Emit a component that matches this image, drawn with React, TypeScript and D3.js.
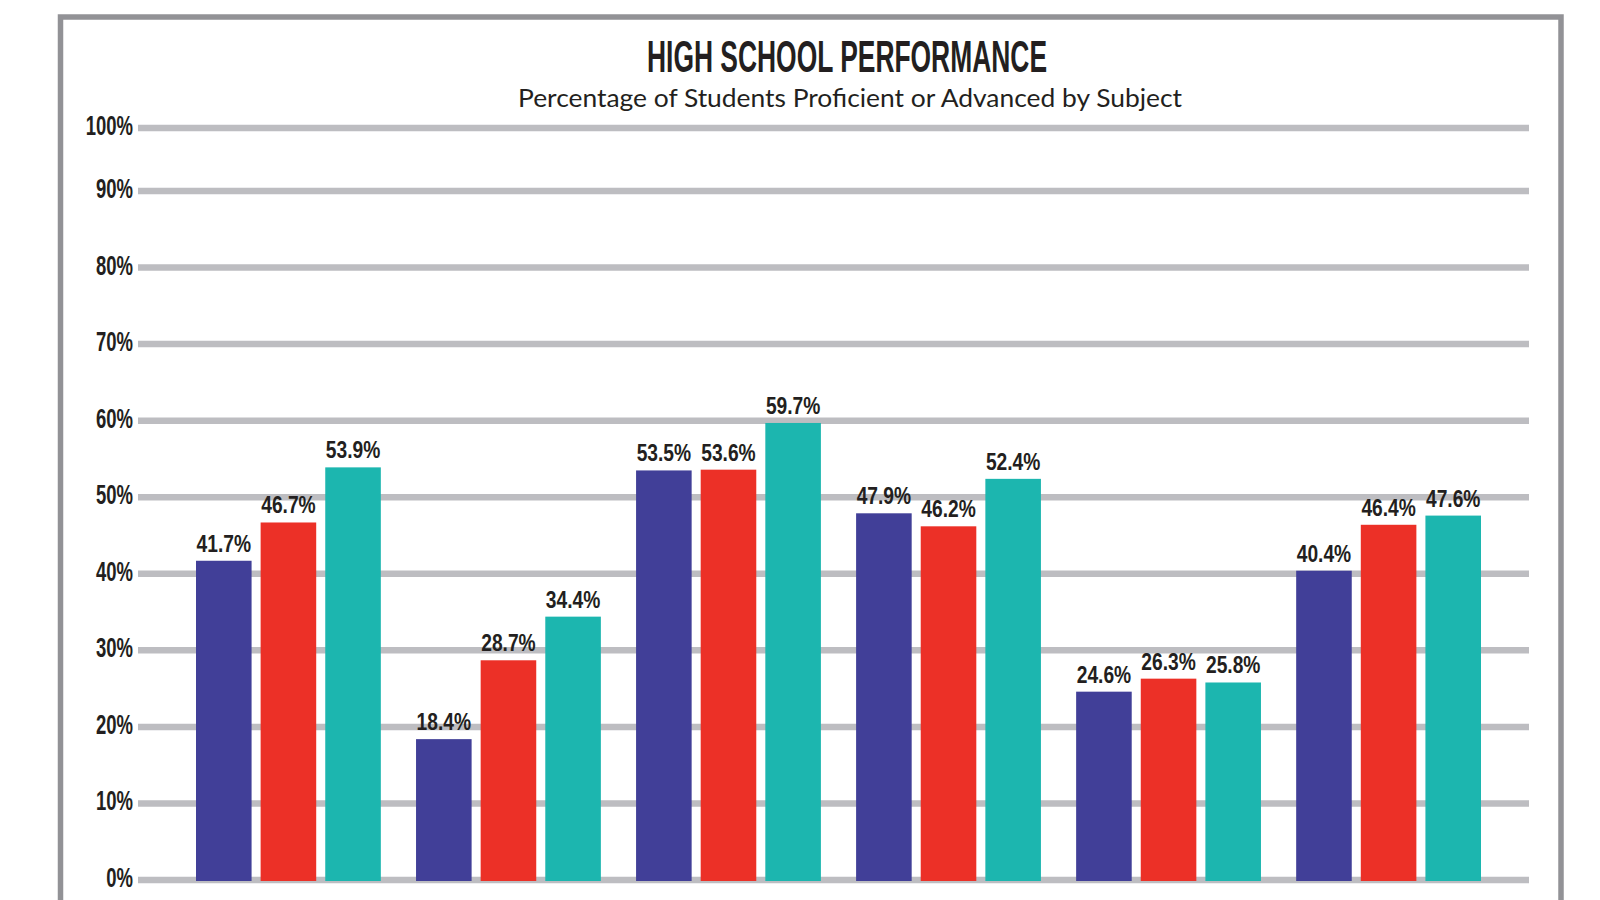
import React from "react";
import * as d3 from "d3";

const subjects = ["Subject 1", "Subject 2", "Subject 3", "Subject 4", "Subject 5", "Subject 6"];
const seriesNames = ["Series A", "Series B", "Series C"];
const seriesA = [41.7, 18.4, 53.5, 47.9, 24.6, 40.4];
const seriesB = [46.7, 28.7, 53.6, 46.2, 26.3, 46.4];
const seriesC = [53.9, 34.4, 59.7, 52.4, 25.8, 47.6];
const yTicks = [0, 10, 20, 30, 40, 50, 60, 70, 80, 90, 100];
const colors = ["#413f98", "#ec3027", "#1cb6af"];

const title = "HIGH SCHOOL PERFORMANCE";
const subtitle = "Percentage of Students Proficient or Advanced by Subject";

export default function App() {
  const W = 1600;
  const H = 900;
  const seriesValues = [seriesA, seriesB, seriesC];

  const y = d3.scaleLinear().domain([0, 90, 100]).range([880, 191, 128]);
  const x0 = d3.scaleBand<string>().domain(subjects).range([196, 1481]).paddingInner(0.16).paddingOuter(0);
  const x1 = d3.scaleBand<string>().domain(seriesNames).range([0, x0.bandwidth()]).paddingInner(0.14).paddingOuter(0);

  const boldFont = "'Liberation Sans', Arial, sans-serif";

  return (
    <svg width={W} height={H} style={{ position: "absolute", left: 0, top: 0, background: "#fff" }}>
      <rect x={60.5} y={17} width={1500.5} height={H + 20} fill="none" stroke="#929296" strokeWidth={5.5} />

      <text
        x={847}
        y={72}
        textAnchor="middle"
        fontFamily={boldFont}
        fontWeight="bold"
        fontSize={45}
        fill="#231f20"
        textLength={400}
        lengthAdjust="spacingAndGlyphs"
      >
        {title}
      </text>
      <text
        x={850}
        y={107}
        textAnchor="middle"
        fontFamily="Lato, 'Open Sans', sans-serif"
        fontSize={25.5}
        fill="#231f20"
        textLength={664}
        lengthAdjust="spacingAndGlyphs"
      >
        {subtitle}
      </text>

      {yTicks.map((t) => (
        <g key={t}>
          <line x1={138} x2={1529} y1={y(t)} y2={y(t)} stroke="#bdbdc1" strokeWidth={6.5} />
          <text
            transform={`translate(133,${y(t) + 7}) scale(0.66,1)`}
            textAnchor="end"
            fontFamily={boldFont}
            fontWeight="bold"
            fontSize={28}
            fill="#231f20"
          >
            {`${t}%`}
          </text>
        </g>
      ))}

      {subjects.map((s, i) => (
        <g key={s} transform={`translate(${x0(s)},0)`}>
          {seriesNames.map((n, j) => {
            const v = seriesValues[j][i];
            const bx = x1(n) as number;
            const bw = x1.bandwidth();
            return (
              <g key={n}>
                <rect x={bx} y={y(v)} width={bw} height={y(0) + 1 - y(v)} fill={colors[j]} />
                <text
                  transform={`translate(${bx + bw / 2},${y(v) - 9}) scale(0.8,1)`}
                  textAnchor="middle"
                  fontFamily={boldFont}
                  fontWeight="bold"
                  fontSize={24}
                  fill="#231f20"
                >
                  {`${v.toFixed(1)}%`}
                </text>
              </g>
            );
          })}
        </g>
      ))}
    </svg>
  );
}
